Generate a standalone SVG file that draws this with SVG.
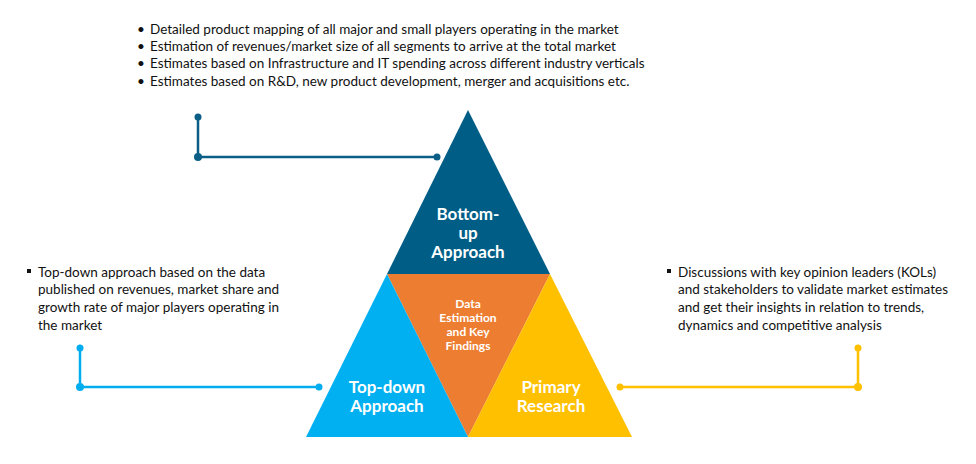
<svg xmlns="http://www.w3.org/2000/svg" width="976" height="464" viewBox="0 0 976 464">
<style>
.t{font-family:Lato,"Open Sans","Liberation Sans",sans-serif;font-size:13.5px;fill:#111}
.w{font-family:Lato,"Open Sans","Liberation Sans",sans-serif;font-weight:bold;fill:#fff;text-anchor:middle}
.big{font-size:17px}
.sm{font-size:12px}
</style>
<rect width="976" height="464" fill="#fff"/>
<g id="connectors">
<g stroke="#0B5E86" stroke-width="2.5" fill="none"><polyline points="198,117 198,157 437,157"/></g>
<g fill="#0B5E86"><circle cx="198" cy="117" r="3.5"/><circle cx="198" cy="157" r="4"/><circle cx="437" cy="157" r="3.5"/></g>
<g stroke="#00AEEF" stroke-width="2.5" fill="none"><polyline points="80,348 80,387 319,387"/></g>
<g fill="#00AEEF"><circle cx="80" cy="348" r="3.5"/><circle cx="80" cy="387" r="4"/><circle cx="319" cy="387" r="3.5"/></g>
<g stroke="#FFC000" stroke-width="2.5" fill="none"><polyline points="620,387 858,387 858,348"/></g>
<g fill="#FFC000"><circle cx="620" cy="387" r="3.5"/><circle cx="858" cy="387" r="4"/><circle cx="858" cy="348" r="3.5"/></g>
</g>
<g id="bottom-up">
<polygon points="468,110 550,274 387,274" fill="#005E86"/>
<text class="w big"><tspan x="468" y="220">Bottom-</tspan><tspan x="468" y="239">up</tspan><tspan x="468" y="258">Approach</tspan></text>
</g>
<g id="data-estimation">
<polygon points="387,274 550,274 468,437" fill="#ED7D31"/>
<text class="w sm"><tspan x="468" y="308">Data</tspan><tspan x="468" y="322">Estimation</tspan><tspan x="468" y="336">and Key</tspan><tspan x="468" y="350">Findings</tspan></text>
</g>
<g id="top-down">
<polygon points="387,274 468,437 306,437" fill="#00B0F0"/>
<text class="w big"><tspan x="387" y="393">Top-down</tspan><tspan x="387" y="412">Approach</tspan></text>
</g>
<g id="primary">
<polygon points="550,274 632,437 468,437" fill="#FFC000"/>
<text class="w big"><tspan x="551" y="393">Primary</tspan><tspan x="551" y="412">Research</tspan></text>
</g>
<g id="top-text" class="t">
<text x="137" y="34">•</text><text x="150" y="34">Detailed product mapping of all major and small players operating in the market</text>
<text x="137" y="51">•</text><text x="150" y="51">Estimation of revenues/market size of all segments to arrive at the total market</text>
<text x="137" y="68">•</text><text x="150" y="68">Estimates based on Infrastructure and IT spending across different industry verticals</text>
<text x="137" y="86">•</text><text x="150" y="86">Estimates based on R&amp;D, new product development, merger and acquisitions etc.</text>
</g>
<g id="left-text" class="t">
<rect x="27" y="269" width="4" height="4" fill="#111"/>
<text x="38" y="277">Top-down approach based on the data</text>
<text x="38" y="294">published on revenues,  market share and</text>
<text x="38" y="312">growth rate of major players operating in</text>
<text x="38" y="330">the market</text>
</g>
<g id="right-text" class="t">
<rect x="667" y="269" width="4" height="4" fill="#111"/>
<text x="678" y="277">Discussions with key opinion leaders (KOLs)</text>
<text x="678" y="294">and stakeholders to validate market estimates</text>
<text x="678" y="312">and get their insights in relation to trends,</text>
<text x="678" y="330">dynamics and competitive analysis</text>
</g>
</svg>
